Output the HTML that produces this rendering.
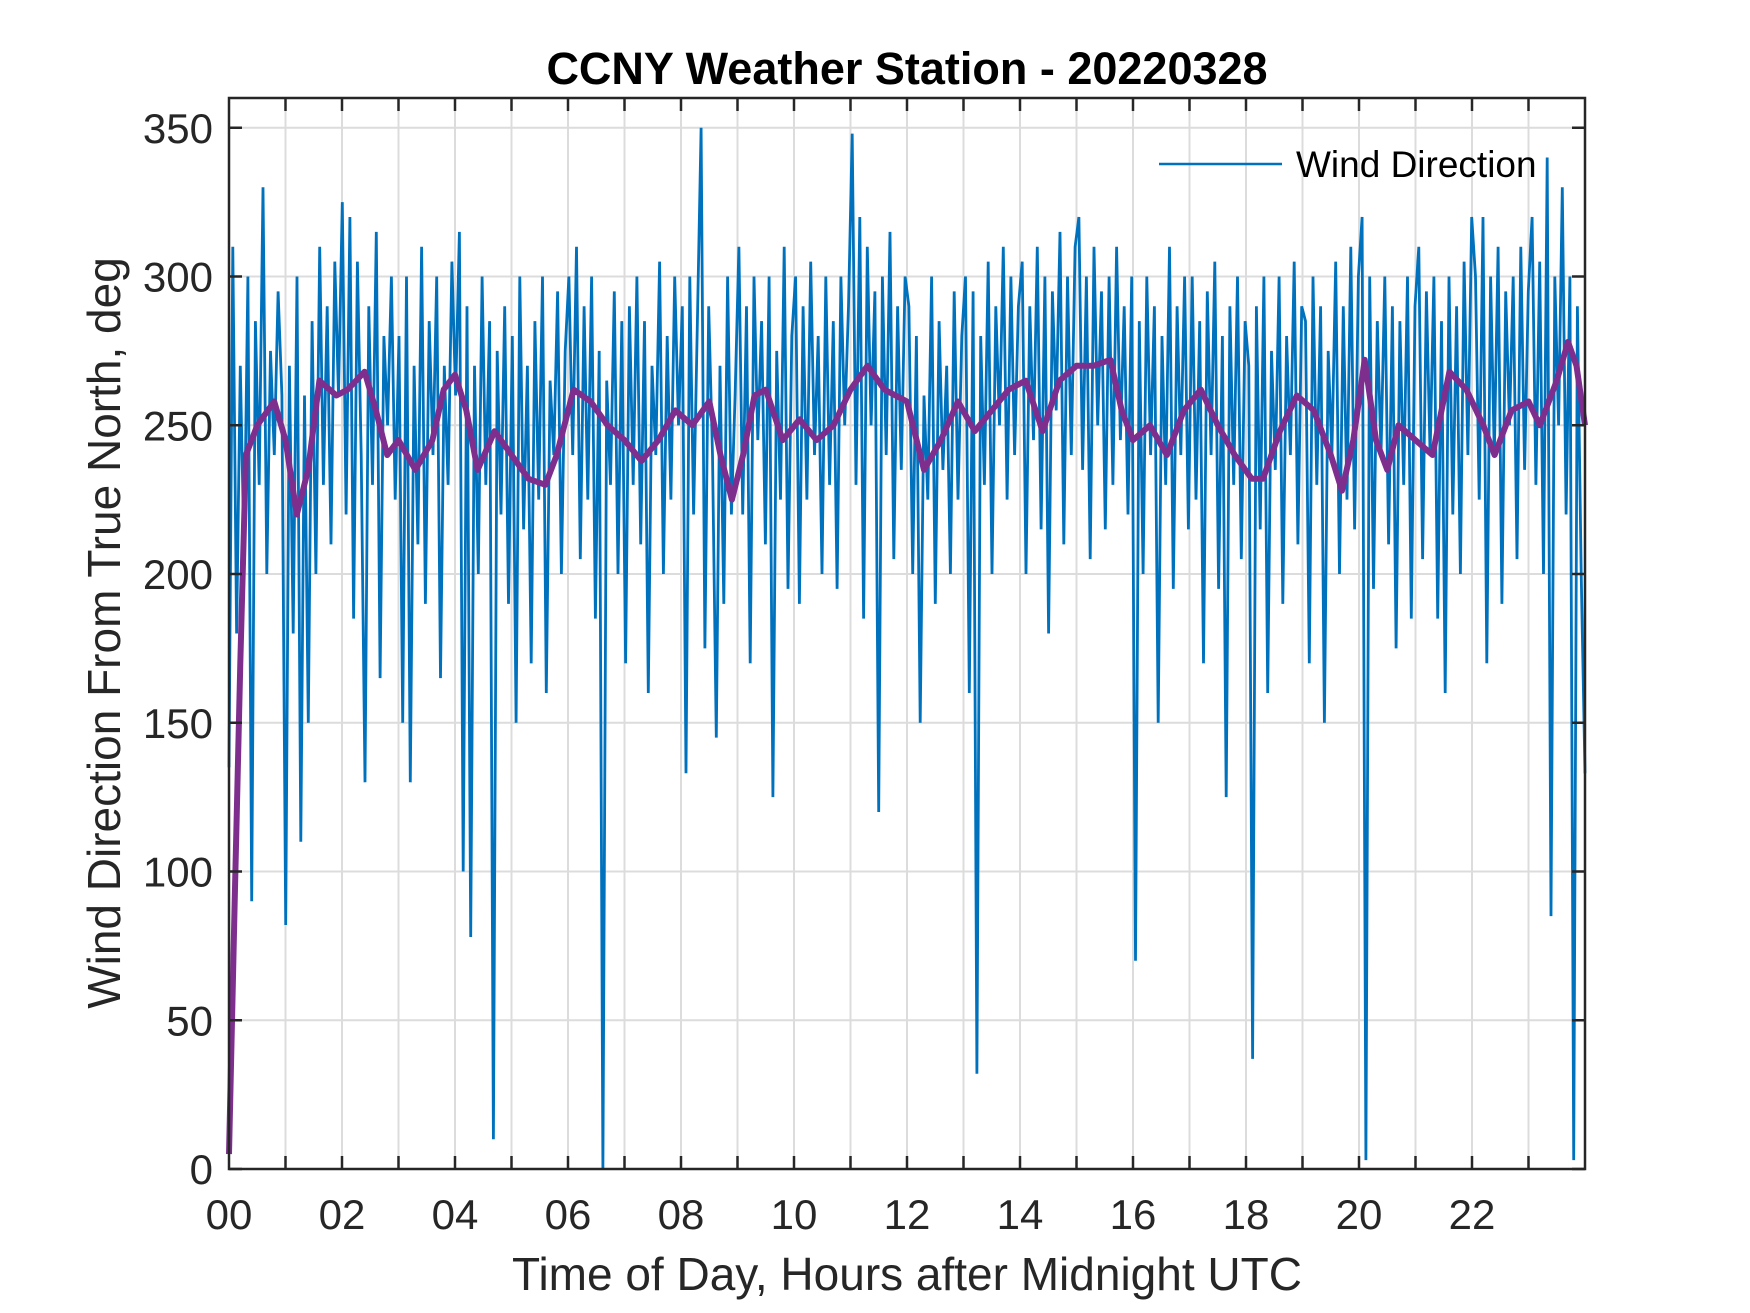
<!DOCTYPE html>
<html><head><meta charset="utf-8"><style>
html,body{margin:0;padding:0;background:#fff;}
svg{display:block;font-family:"Liberation Sans",Arial,sans-serif;}
</style></head><body>
<svg id="chart" width="1750" height="1313" viewBox="0 0 1750 1313">
<rect width="1750" height="1313" fill="#fff"/>
<text x="907" y="84" text-anchor="middle" font-size="45" font-weight="bold" fill="#000">CCNY Weather Station - 20220328</text>
<g id="grid"></g>
<g id="series"></g>
<g id="axes"></g>
<text x="907" y="1290" text-anchor="middle" font-size="46" fill="#262626">Time of Day, Hours after Midnight UTC</text>
<text transform="translate(120,633) rotate(-90)" text-anchor="middle" font-size="46" fill="#262626">Wind Direction From True North, deg</text>
<g>
<line x1="1159" y1="164" x2="1282" y2="164" stroke="#0072BD" stroke-width="2.5"/>
<text x="1296" y="177" font-size="37" fill="#000">Wind Direction</text>
</g>
</svg>
<script>
const xTicks = [0,2,4,6,8,10,12,14,16,18,20,22];
const xTickLabels = ["00","02","04","06","08","10","12","14","16","18","20","22"];
const yTicks = [0,50,100,150,200,250,300,350];
const windRaw = [
135,310,180,270,205,300,90,285,230,330,200,275,240,295,260,
82,270,180,300,110,260,150,285,200,310,230,290,210,305,260,
325,220,320,185,305,240,130,290,230,315,165,280,250,300,225,
280,150,300,130,270,210,310,190,285,240,300,165,270,230,305,
260,315,100,290,78,270,200,300,230,285,10,275,220,290,190,
280,150,300,215,270,170,285,225,300,160,265,240,295,200,275,
300,240,310,205,290,225,300,185,275,0,265,230,295,200,285,
170,290,230,300,210,285,160,270,240,305,200,280,225,300,250,
290,133,300,220,285,350,175,290,240,145,270,190,300,220,260,
310,220,290,170,300,245,285,210,300,125,275,225,310,195,280,
300,190,290,225,305,240,280,200,300,230,285,195,300,250,290,
348,230,320,185,310,250,295,120,300,240,315,205,290,235,300,
290,200,280,150,260,225,300,190,285,235,270,200,295,225,280,
300,160,295,32,280,230,305,200,290,250,310,225,300,240,290,
305,200,290,245,310,215,300,180,295,255,315,210,300,240,310,
320,235,300,205,310,250,295,215,300,230,310,245,290,220,300,
70,285,200,300,240,290,150,280,230,310,195,290,240,300,215,
300,225,285,170,295,240,305,195,280,125,290,230,300,205,285,
270,37,290,215,300,160,275,235,300,190,280,240,305,210,290,
285,170,300,230,290,150,275,240,305,200,290,225,310,215,300,
320,3,300,195,285,240,300,210,290,175,285,230,300,185,290,
310,205,295,240,300,185,285,160,300,220,290,200,305,240,320,
300,225,320,170,300,240,310,190,295,250,300,205,310,235,295,
320,230,305,200,340,85,300,250,330,220,300,3,290,200,133
];
const trendHours = [0,0.1,0.2,0.3,0.5,0.8,1.0,1.2,1.4,1.6,1.9,2.1,2.4,2.6,2.8,3.0,3.3,3.6,3.8,4.0,4.2,4.4,4.7,5.0,5.3,5.6,5.8,6.1,6.4,6.7,7.0,7.3,7.6,7.9,8.2,8.5,8.7,8.9,9.1,9.3,9.5,9.8,10.1,10.4,10.7,11.0,11.3,11.6,12.0,12.3,12.6,12.9,13.2,13.5,13.8,14.1,14.4,14.7,15.0,15.3,15.6,15.8,16.0,16.3,16.6,16.9,17.2,17.5,17.8,18.1,18.3,18.6,18.9,19.2,19.5,19.7,19.9,20.1,20.3,20.5,20.7,21.0,21.3,21.6,21.9,22.2,22.4,22.7,23.0,23.2,23.5,23.7,23.85,24];
const trendValues = [5,90,170,240,250,258,245,220,235,265,260,262,268,255,240,245,235,245,262,267,255,235,248,240,232,230,240,262,258,250,245,238,245,255,250,258,240,225,240,260,262,245,252,245,250,262,270,262,258,235,245,258,248,255,262,265,248,265,270,270,272,255,245,250,240,255,262,250,240,232,232,248,260,255,240,228,245,272,245,235,250,245,240,268,262,250,240,255,258,250,265,278,270,250];

const L=229,R=1585,T=98,B=1169;
const xMin=0,xMax=24,yMin=0,yMax=360;
function xs(v){return L+(v-xMin)/(xMax-xMin)*(R-L);}
function ys(v){return B-(v-yMin)/(yMax-yMin)*(B-T);}
const NS="http://www.w3.org/2000/svg";
function mk(tag,attrs,parent){const e=document.createElementNS(NS,tag);for(const k in attrs)e.setAttribute(k,attrs[k]);parent.appendChild(e);return e;}
const grid=document.getElementById('grid'),axes=document.getElementById('axes'),series=document.getElementById('series');
for(let h=1;h<24;h++){
  const g=mk('line',{x1:xs(h),x2:xs(h),y1:T,y2:B,stroke:'#dcdcdc','stroke-width':2},grid);
  
  
}
yTicks.forEach(v=>{
  const g=mk('line',{x1:L,x2:R,y1:ys(v),y2:ys(v),stroke:'#dcdcdc','stroke-width':2},grid);
  
  
});
let d='';
const n=windRaw.length;
windRaw.forEach((v,i)=>{const h=i*24/(n-1);d+=(i?'L':'M')+xs(h).toFixed(1)+' '+ys(v).toFixed(1);});
const wl=mk('path',{d:d,fill:'none',stroke:'#0072BD','stroke-width':2.8,'stroke-linejoin':'miter'},series);


let d2='';
trendValues.forEach((v,i)=>{d2+=(i?'L':'M')+xs(trendHours[i]).toFixed(1)+' '+ys(v).toFixed(1);});
const tl=mk('path',{d:d2,fill:'none',stroke:'#7E2F8E','stroke-width':6,'stroke-linejoin':'round'},series);


const box=mk('rect',{x:L,y:T,width:R-L,height:B-T,fill:'none',stroke:'#262626','stroke-width':2.5},axes);


for(let h=1;h<24;h++){
  const t1=mk('line',{x1:xs(h),x2:xs(h),y1:B,y2:B-13,stroke:'#262626','stroke-width':2.5},axes);
  
  
  const t2=mk('line',{x1:xs(h),x2:xs(h),y1:T,y2:T+13,stroke:'#262626','stroke-width':2.5},axes);
  
  
}
xTicks.forEach((v,i)=>{
  const t=mk('text',{x:xs(v),y:1229,'text-anchor':'middle','font-size':42,fill:'#262626'},axes);
  t.textContent=xTickLabels[i];
  
  
});
yTicks.forEach(v=>{
  const a=mk('line',{x1:L,x2:L+13,y1:ys(v),y2:ys(v),stroke:'#262626','stroke-width':2.5},axes);
  
  
  const b=mk('line',{x1:R,x2:R-13,y1:ys(v),y2:ys(v),stroke:'#262626','stroke-width':2.5},axes);
  
  
  const t=mk('text',{x:L-16,y:ys(v)+15,'text-anchor':'end','font-size':42,fill:'#262626'},axes);
  t.textContent=String(v);
  
  
});
</script>
</body></html>
